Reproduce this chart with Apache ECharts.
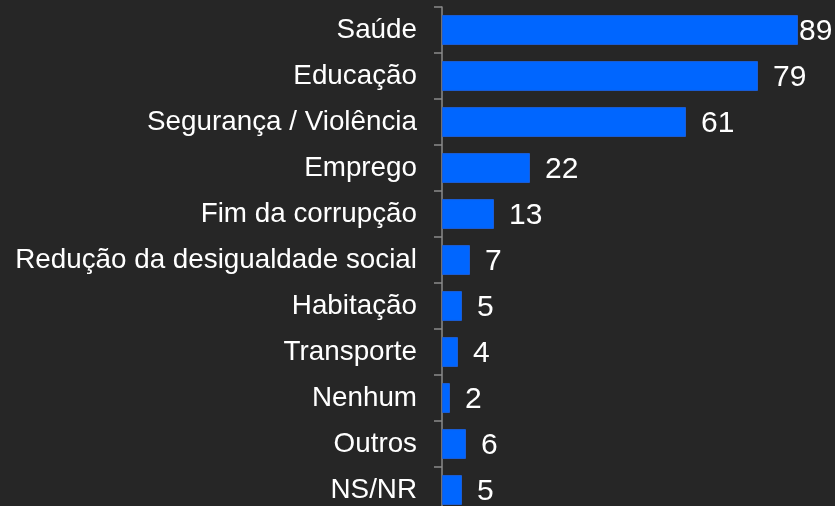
<!DOCTYPE html>
<html>
<head>
<meta charset="utf-8">
<script src="https://cdn.jsdelivr.net/npm/echarts@6/dist/echarts.min.js"></script>
<style>
html,body{margin:0;padding:0;background:#262626;}
#chart{width:835px;height:506px;}
</style>
</head>
<body>
<div id="chart"></div>
<script>
const categories = ["Saúde","Educação","Segurança / Violência","Emprego","Fim da corrupção","Redução da desigualdade social","Habitação","Transporte","Nenhum","Outros","NS/NR"];
const values = [89,79,61,22,13,7,5,4,2,6,5];

const maxVal = Math.max(...values);
const seriesData = values.map(v => v === maxVal
  ? { value: v, label: { distance: 1 } }
  : v);

const chart = echarts.init(document.getElementById('chart'), null, {renderer:'canvas'});
chart.setOption({
  backgroundColor: '#262626',
  animation: false,
  grid: { left: 442, width: 356, top: 7, height: 506, containLabel: false, outerBoundsMode: 'none' },
  xAxis: {
    type: 'value',
    min: 0,
    max: 'dataMax',
    show: false
  },
  yAxis: {
    type: 'category',
    data: categories,
    inverse: true,
    axisLine: { show: true, lineStyle: { color: '#8a8a8a', width: 1.5 } },
    axisTick: { show: true, length: 8, lineStyle: { color: '#8a8a8a', width: 1.5 } },
    axisLabel: {
      color: '#ffffff',
      fontSize: 27.8,
      fontFamily: 'Liberation Sans, Arial, sans-serif',
      margin: 25,
      padding: [2, 0, 0, 0]
    },
    splitLine: { show: false }
  },
  series: [{
    type: 'bar',
    data: seriesData,
    barWidth: '65%',
    itemStyle: { color: '#0066ff', borderColor: '#1a5ed8', borderWidth: 1 },
    label: {
      show: true,
      position: 'right',
      distance: 15,
      offset: [0, 2],
      color: '#ffffff',
      fontSize: 30,
      fontFamily: 'Liberation Sans, Arial, sans-serif'
    }
  }]
});
</script>
</body>
</html>
